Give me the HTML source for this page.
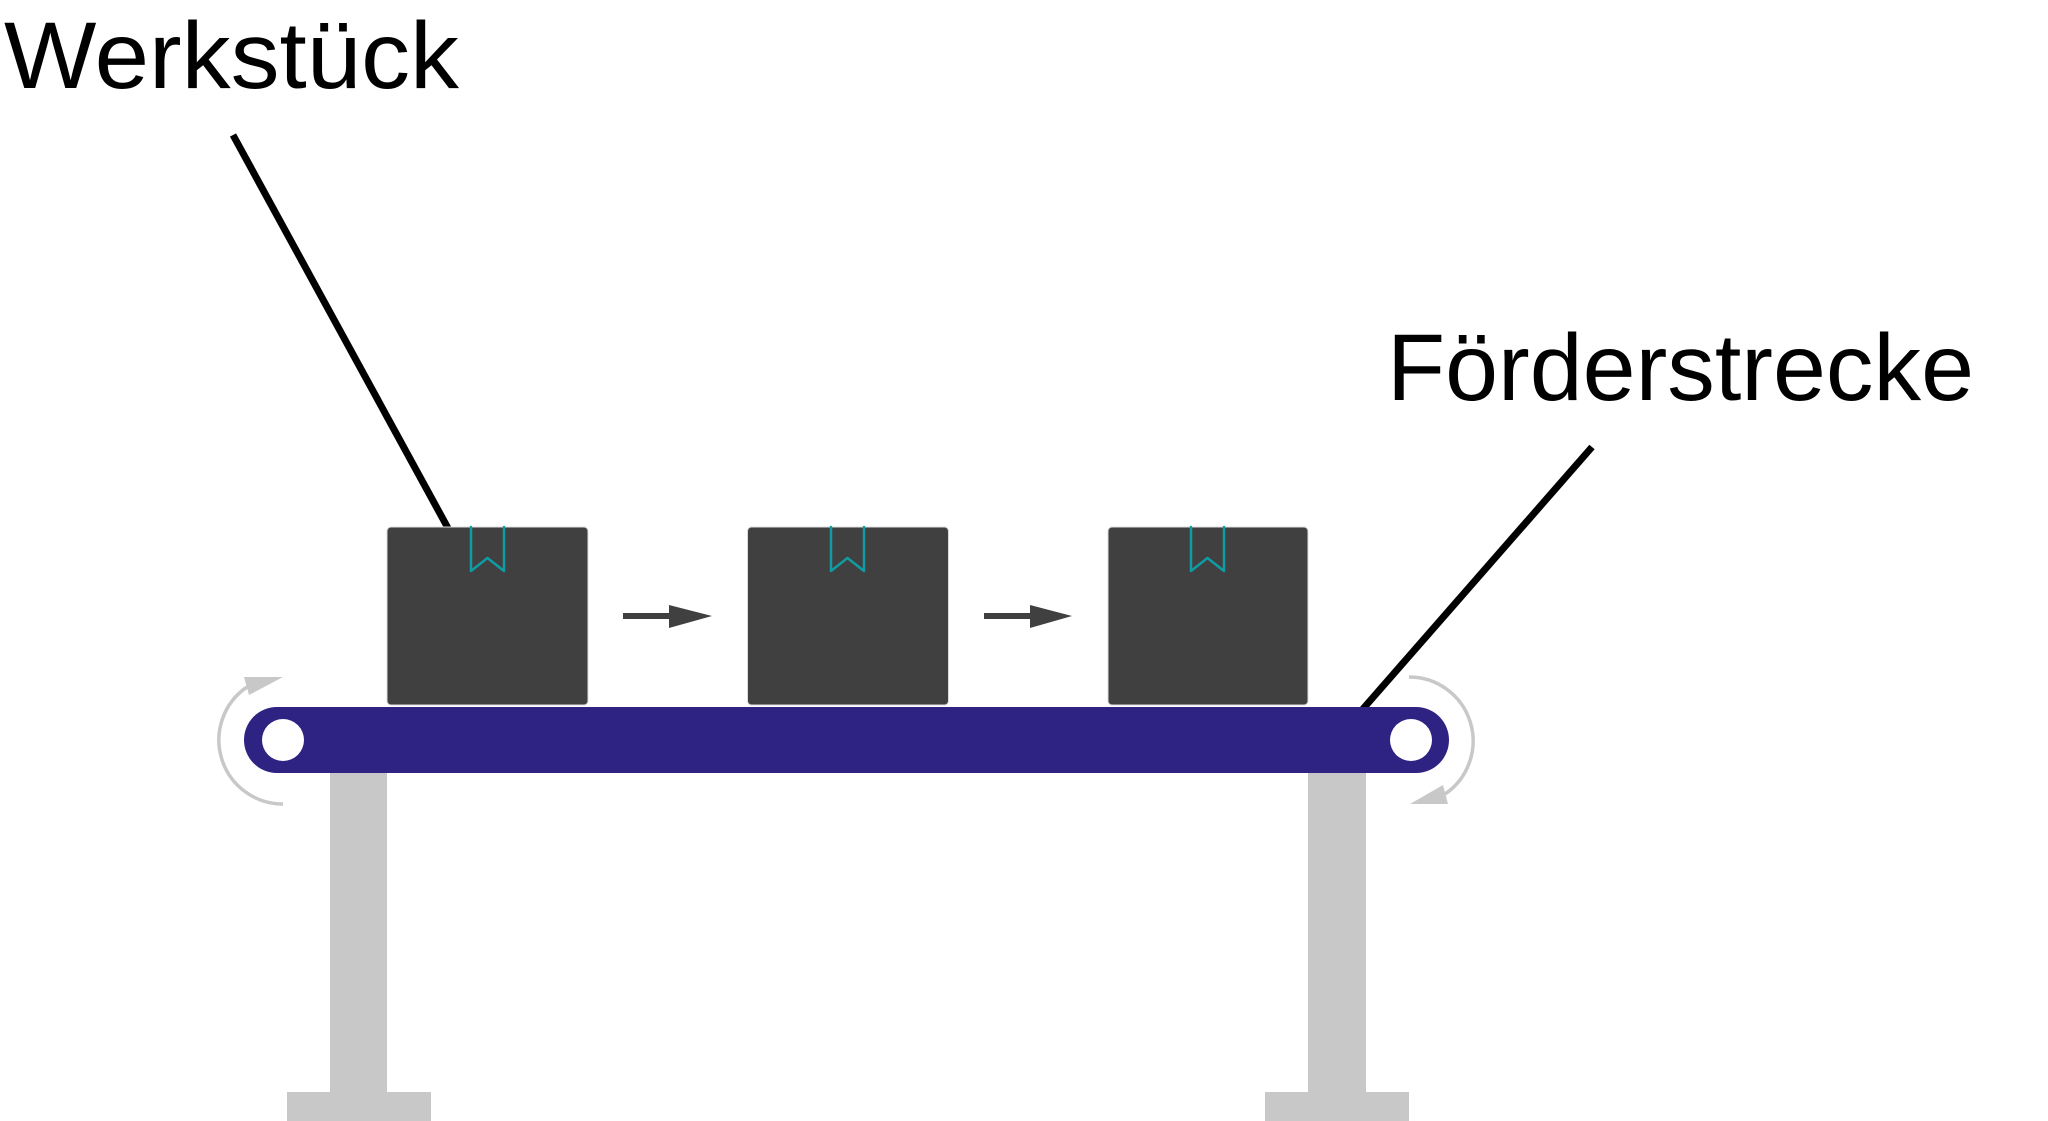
<!DOCTYPE html>
<html>
<head>
<meta charset="utf-8">
<style>
html,body{margin:0;padding:0;background:#fff;}
svg{display:block;}
</style>
</head>
<body>
<svg width="2048" height="1121" viewBox="0 0 2048 1121" xmlns="http://www.w3.org/2000/svg">
  <rect x="0" y="0" width="2048" height="1121" fill="#ffffff"/>
  <!-- labels -->
  <text x="4" y="88" font-family="Liberation Sans, Arial, sans-serif" font-size="95" fill="#000" textLength="455" lengthAdjust="spacingAndGlyphs">Werkstück</text>
  <text x="1387" y="400" font-family="Liberation Sans, Arial, sans-serif" font-size="95" fill="#000" textLength="587" lengthAdjust="spacingAndGlyphs">Förderstrecke</text>
  <!-- leader lines -->
  <line x1="233" y1="135" x2="449" y2="530" stroke="#000" stroke-width="7"/>
  <line x1="1592" y1="447" x2="1362" y2="710" stroke="#000" stroke-width="7"/>

  <!-- legs -->
  <rect x="330" y="770" width="57" height="351" fill="#c8c8c8"/>
  <rect x="287" y="1092" width="144" height="29" fill="#c8c8c8"/>
  <rect x="1308" y="770" width="58" height="351" fill="#c8c8c8"/>
  <rect x="1265" y="1092" width="144" height="29" fill="#c8c8c8"/>

  <!-- boxes -->
  <g fill="#404040" stroke="#dcdcdc" stroke-width="1">
    <rect x="387" y="527" width="201" height="178" rx="4"/>
    <rect x="747.5" y="527" width="201" height="178" rx="4"/>
    <rect x="1108" y="527" width="200" height="178" rx="4"/>
  </g>
  <!-- notches -->
  <g fill="none" stroke="#0f9ca3" stroke-width="2.5" stroke-linejoin="round" stroke-linecap="round">
    <polyline points="471,527 471,571 487.5,558 504,571 504,527"/>
    <polyline points="831,527 831,571 847.5,558 864,571 864,527"/>
    <polyline points="1191,527 1191,571 1207.5,558 1224,571 1224,527"/>
  </g>

  <!-- arrows between boxes -->
  <g fill="#404040">
    <rect x="623" y="613" width="48" height="6"/>
    <polygon points="669,605 712,616 669,628"/>
    <rect x="984" y="613" width="48" height="6"/>
    <polygon points="1030,605 1072,616 1030,628"/>
  </g>

  <!-- belt -->
  <rect x="244" y="707" width="1205" height="66" rx="33" ry="33" fill="#2e2383"/>
  <circle cx="283" cy="740" r="21" fill="#fff"/>
  <circle cx="1411" cy="740" r="21" fill="#fff"/>

  <!-- rotation arrows -->
  <g fill="none" stroke="#c8c8c8" stroke-width="3.5">
    <path d="M 283 804 A 64 64 0 0 1 247 687"/>
    <path d="M 1409 677 A 64 64 0 0 1 1445 794"/>
  </g>
  <g fill="#c8c8c8">
    <polygon points="244,677 283,677 249,695"/>
    <polygon points="1410,804 1448,804 1443,785"/>
  </g>
</svg>
</body>
</html>
